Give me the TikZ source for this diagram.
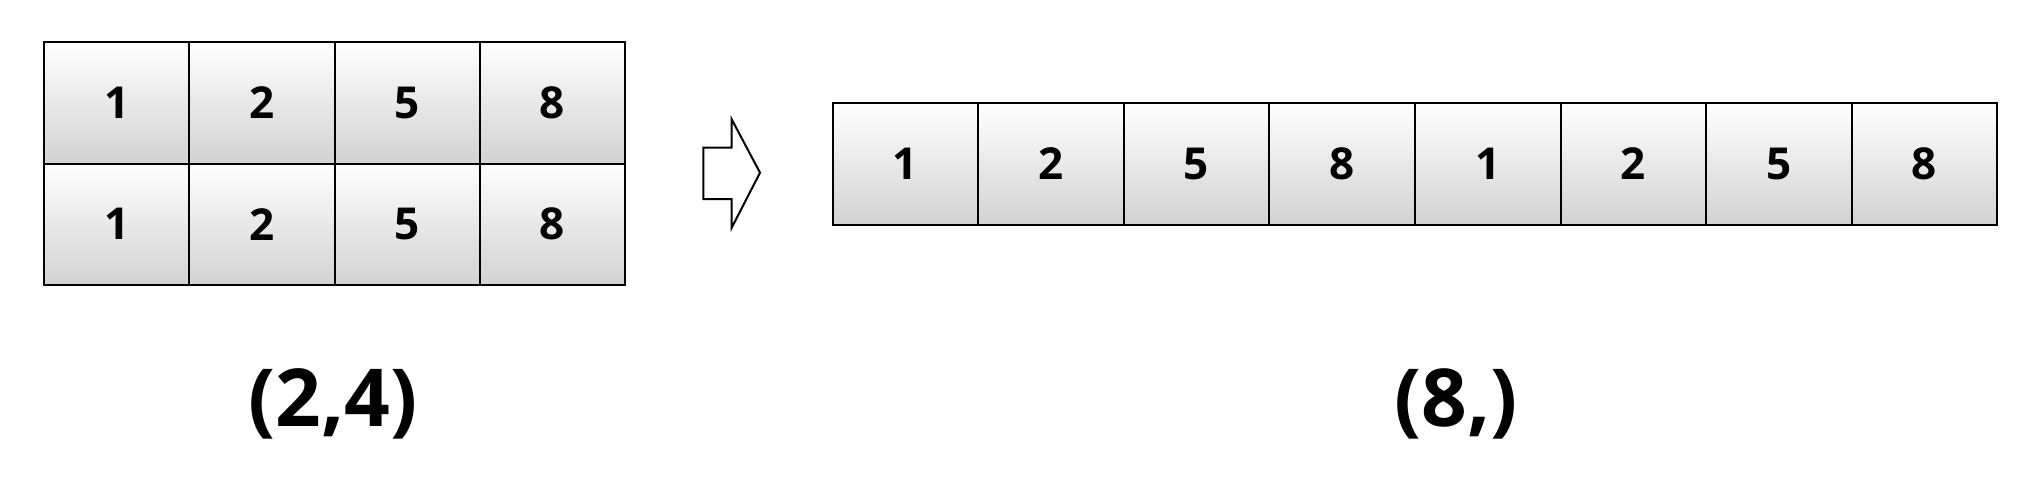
\documentclass[tikz,border=0pt]{standalone}
\usepackage{fontspec}
\setmainfont{Open Sans}
\usetikzlibrary{positioning}
\definecolor{cellline}{HTML}{000000}
\definecolor{celltop}{HTML}{FFFFFF}
\definecolor{cellbot}{HTML}{D2D2D2}

\begin{document}
\begin{tikzpicture}[x=1pt,y=-1pt,
  cell/.style={draw=cellline, line width=2pt, minimum width=145.3pt, minimum height=121.5pt,
    inner sep=0pt, outer sep=0pt, top color=celltop, middle color=celltop!97!cellbot, bottom color=cellbot,
    font=\fontsize{44}{44}\selectfont\bfseries},
  shapelabel/.style={font=\fontsize{80}{80}\selectfont\bfseries}]
\useasboundingbox (0,0) rectangle (2024,482);
% left array, shape (2,4)
\foreach \r in {1,2}
  \foreach \v [count=\c] in {1,2,5,8}
    \node[cell] (l-\r-\c) at ({44+145.3*(\c-0.5)},{42+121.5*(\r-0.5)}) {\v};
% right array, shape (8,)
\foreach \v [count=\c] in {1,2,5,8,1,2,5,8}
  \node[cell, minimum width=145.6pt, minimum height=122.3pt] (r-\c) at ({832.5+145.6*(\c-0.5)},{163.8}) {\v};
% block arrow
\draw[line width=2pt, fill=white] (703.3,147.7) -- (731.7,147.7) -- (731.7,119.3) -- (760,172.7)
  -- (731.7,227.7) -- (731.7,199) -- (703.3,199) -- cycle;
\node[shapelabel] (lshape) at (333,404) {(2,4)};
\node[shapelabel] (rshape) at (1456,404) {(8,)};
\end{tikzpicture}
\end{document}
